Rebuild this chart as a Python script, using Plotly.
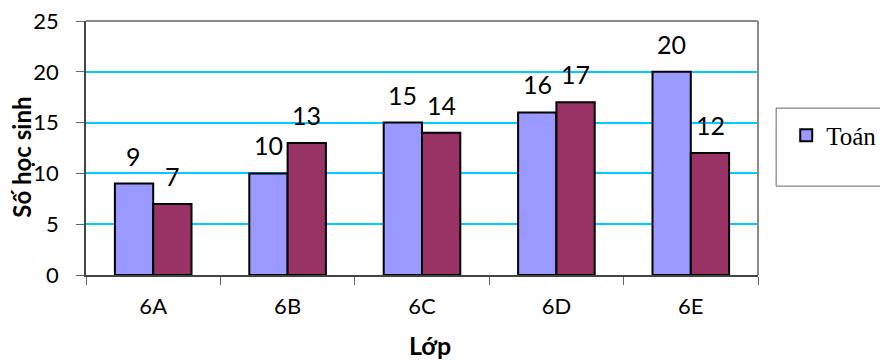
import plotly.graph_objects as go

categories = ["6A", "6B", "6C", "6D", "6E"]
toan = [9, 10, 15, 16, 20]
van = [7, 13, 14, 17, 12]
y_ticks = [0, 5, 10, 15, 20, 25]

FONT = "Lato, 'Open Sans', sans-serif"
BAR_HALF = 19.2  # pixel offset of each bar's centre from the category centre

fig = go.Figure()
fig.add_trace(go.Bar(
    x=categories, y=toan, name="Toán",
    marker=dict(color="#9999FF", line=dict(color="black", width=2)),
))
fig.add_trace(go.Bar(
    x=categories, y=van, name="Văn", showlegend=False,
    marker=dict(color="#993366", line=dict(color="black", width=2)),
))

annotations = []
for series, shift in ((toan, -BAR_HALF), (van, BAR_HALF)):
    for cat, val in zip(categories, series):
        annotations.append(dict(
            x=cat, y=val, xref="x", yref="y", text=str(val), showarrow=False,
            xanchor="center", yanchor="bottom", xshift=shift, yshift=11,
            font=dict(size=25, family=FONT, color="black"),
        ))

annotations += [
    dict(text="<b>Lớp</b>", xref="paper", yref="paper", x=0.512, y=-0.276,
         xanchor="center", yanchor="middle", showarrow=False,
         font=dict(size=25, family=FONT, color="black")),
    dict(text="<b>Số học sinh</b>", xref="paper", yref="paper", x=-0.0955, y=0.465,
         xanchor="center", yanchor="middle", showarrow=False, textangle=-90,
         font=dict(size=24, family=FONT, color="black")),
]

fig.update_layout(
    width=888, height=360,
    margin=dict(l=78, r=138, t=13, b=93, autoexpand=False),
    paper_bgcolor="white", plot_bgcolor="white",
    barmode="group", bargap=0.43, bargroupgap=0,
    font=dict(family=FONT, color="black"),
    showlegend=True,
    legend=dict(
        x=1.042, y=0.64, xanchor="left", yanchor="top",
        font=dict(family="'Liberation Serif', 'Times New Roman', serif", size=25, color="black"),
        bgcolor="rgba(0,0,0,0)", borderwidth=0,
        itemwidth=30,
    ),
    xaxis=dict(
        tickfont=dict(size=22, family=FONT),
        showline=True, linecolor="#444", linewidth=1.5,
        ticks="outside", ticklen=8, tickcolor="#666",
        tickson="boundaries", showgrid=False, automargin=False,
        ticklabelstandoff=11,
    ),
    yaxis=dict(
        range=[0, 25], tickvals=y_ticks,
        tickfont=dict(size=22, family=FONT),
        showline=True, linecolor="#444", linewidth=1.5,
        ticks="outside", ticklen=8, tickcolor="#666",
        showgrid=True, gridcolor="#00CCFF", gridwidth=2,
        zeroline=False, automargin=False,
        ticklabelstandoff=13, ticklabeloverflow="allow",
    ),
    annotations=annotations,
    shapes=[
        dict(type="line", xref="paper", yref="paper", x0=0, x1=1, y0=1, y1=1,
             line=dict(color="#8a8a8a", width=2)),
        dict(type="line", xref="paper", yref="paper", x0=1, x1=1, y0=0, y1=1,
             line=dict(color="#8a8a8a", width=2)),
        dict(type="rect", xref="paper", yref="paper", x0=1.027, x1=1.25, y0=0.35, y1=0.657,
             line=dict(color="#666", width=1)),
    ],
)

fig.write_html("out.html")
